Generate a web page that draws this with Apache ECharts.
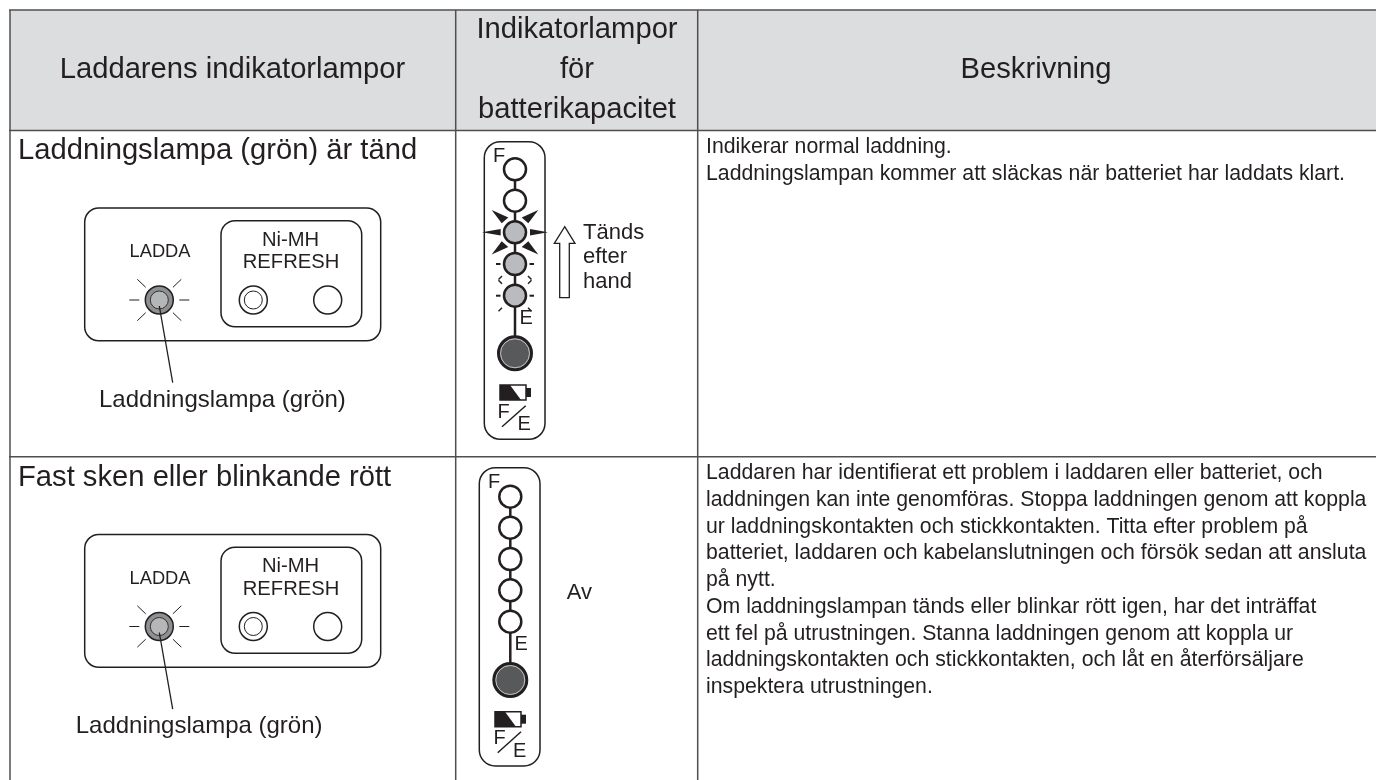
<!DOCTYPE html>
<html><head><meta charset="utf-8">
<style>html,body{margin:0;padding:0;background:#fff}#c{width:1376px;height:780px}</style>
<script src="https://cdn.jsdelivr.net/npm/echarts@6/dist/echarts.min.js"></script>
</head><body><div id="c"></div>
<script>
const headers = ['Laddarens indikatorlampor', 'Indikatorlampor', 'för', 'batterikapacitet', 'Beskrivning'];
const rowTitles = ['Laddningslampa (grön) är tänd', 'Fast sken eller blinkande rött'];
const chargeLabel = 'LADDA';
const modeLabels = ['Ni-MH', 'REFRESH'];
const lampLabel = 'Laddningslampa (grön)';
const risingLabels = ['Tänds', 'efter', 'hand'];
const offLabel = 'Av';
const desc1 = ['Indikerar normal laddning.',
 'Laddningslampan kommer att släckas när batteriet har laddats klart.'];
const desc2 = ['Laddaren har identifierat ett problem i laddaren eller batteriet, och',
 'laddningen kan inte genomföras. Stoppa laddningen genom att koppla',
 'ur laddningskontakten och stickkontakten. Titta efter problem på',
 'batteriet, laddaren och kabelanslutningen och försök sedan att ansluta',
 'på nytt.',
 'Om laddningslampan tänds eller blinkar rött igen, har det inträffat',
 'ett fel på utrustningen. Stanna laddningen genom att koppla ur',
 'laddningskontakten och stickkontakten, och låt en återförsäljare',
 'inspektera utrustningen.'];

const INK = '#231f20', RULE='#4f4f51', FONT = '"Liberation Sans", Arial, sans-serif';
const els = [];
const line = (x1,y1,x2,y2,w=1.5,c=INK) => els.push({type:'line',shape:{x1,y1,x2,y2},style:{stroke:c,lineWidth:w}});
const rect = (x,y,w,h,r,o={}) => els.push({type:'rect',shape:{x,y,width:w,height:h,r},style:Object.assign({fill:'#fff',stroke:INK,lineWidth:1.5},o)});
const circ = (cx,cy,r,o={}) => els.push({type:'circle',shape:{cx,cy,r},style:Object.assign({fill:'#fff',stroke:INK,lineWidth:1.5},o)});
const poly = (points,o={}) => els.push({type:'polygon',shape:{points},style:Object.assign({fill:INK,stroke:'none'},o)});
const text = (t,x,y,size,o={}) => {
  const {align='left',color=INK} = o;
  els.push({type:'text',x,y,silent:true,style:{text:t,x:0,y:0,fill:color,
    font:size+'px '+FONT,align:align,verticalAlign:'middle',textAlign:align,textVerticalAlign:'middle'}});
};

// table frame
rect(10,10,1366,120.5,0,{fill:'#dcddde',stroke:'none'});
line(9,10,1376,10,1.5,RULE); line(10,10,10,780,1.5,RULE); line(455.7,10,455.7,780,1.5,RULE); line(697.7,10,697.7,780,1.5,RULE);
line(9,130.5,1376,130.5,1.5,RULE); line(9,456.7,1376,456.7,1.5,RULE);

const HS=29.2;
text(headers[0],232.5,70,HS,{align:'center'});
text(headers[1],577,30,HS,{align:'center'});
text(headers[2],577,70,HS,{align:'center'});
text(headers[3],577,110,HS,{align:'center'});
text(headers[4],1036,70,HS,{align:'center'});
text(rowTitles[0],18,151,HS);
text(rowTitles[1],18,478,HS);

desc1.forEach((t,i)=>text(t,706,147.5+i*26.7,21.25));
desc2.forEach((t,i)=>text(t,706,473.5+i*26.7,21.25));

function panel(dy, labelX){
  rect(84.7,208+dy,296,132.7,14);
  rect(221,220.7+dy,140.7,106,14);
  text(chargeLabel,160,252+dy,18.3,{align:'center'});
  text(modeLabels[0],290.5,240+dy,20.2,{align:'center'});
  text(modeLabels[1],291,262.7+dy,20.2,{align:'center'});
  const cx=159.3, cy=300+dy;
  [[-20,0,-30,0],[20,0,30,0],[-13.6,-12.7,-22,-20.7],[13.6,-12.7,22,-20.7],[-13.6,12.7,-22,20.7],[13.6,12.7,22,20.7]]
    .forEach(d=>line(cx+d[0],cy+d[1],cx+d[2],cy+d[3],1));
  circ(cx,cy,14,{fill:'#8e8f91'});
  circ(cx,cy,9,{fill:'#b5b6b8',stroke:'#333',lineWidth:1});
  line(cx,cy+6,172.7,382.7+dy,1.3);
  circ(253.3,cy,14); circ(253.3,cy,9,{lineWidth:1});
  circ(327.7,cy,14);
  text(lampLabel,labelX,400+dy,24);
}
panel(0,99);
panel(326.5,75.7);

function column(x,top,bot,cx,ys,big,fills){
  rect(x,top,60.7,bot-top,16);
  line(cx,ys[0],cx,big,2.5);
  ys.forEach((y,i)=>circ(cx,y,11,{fill:fills[i],lineWidth:2.5}));
  circ(cx,big,16.5,{fill:'#58595b',stroke:INK,lineWidth:3});
  circ(cx,big,14.5,{fill:'#58595b',stroke:'#ddd',lineWidth:0.8});
}
const G='#b9bbbe';
const ys1=[169.3,200.7,232.3,264,295.7], ys2=[496.7,527.7,559,590.3,621.7];
column(484.3,141.7,439.3,515,ys1,353.3,['#fff','#fff',G,G,G]);
column(479.3,467.7,766,510.3,ys2,680,['#fff','#fff','#fff','#fff','#fff']);

function bat(x,y){
  rect(x,y,26,15,0,{lineWidth:1.5});
  poly([[x,y],[x+10,y],[x+21,y+15],[x,y+15]]);
  rect(x+26,y+3,5,9,0,{fill:INK,stroke:'none'});
}
bat(500,385); bat(495,711.7);
const LS=20;
text('F',493,156.5,LS); text('E',519.5,318.5,LS);
text('F',497.5,412,LS); text('E',517.5,424.5,LS); line(502,426.7,525.7,405.7,1.5);
text('F',488,482,LS); text('E',514.5,644,LS);
text('F',493.5,738,LS); text('E',513,751.5,LS); line(497.7,752.7,521,731.7,1.5);

// flashing marks on third lamp
const c3x=515,c3y=232.3;
poly([[c3x-33,c3y],[c3x-14.3,c3y-3.2],[c3x-14.3,c3y+3.2]]);
poly([[c3x+33,c3y],[c3x+15,c3y-3.2],[c3x+15,c3y+3.2]]);
[[-1,-1],[1,-1],[-1,1],[1,1]].forEach(s=>poly([[c3x+s[0]*23.3,c3y+s[1]*22.3],[c3x+s[0]*13.3,c3y+s[1]*9],[c3x+s[0]*6.7,c3y+s[1]*14.7]]));
// fainter flashes on lamps four and five
[264,295.7].forEach(y=>{
  line(496,y,500.5,y,2); line(529.5,y,534,y,2);
  [[-1,-1],[1,-1],[-1,1],[1,1]].forEach(s=>{ if(y===264&&s[1]<0) return;
    line(515+s[0]*13,y+s[1]*12,515+s[0]*16.5,y+s[1]*15.5,1.5);});
});

poly([[564.7,226.7],[575,243.3],[569.3,243.3],[569.3,297.7],[559.7,297.7],[559.7,243.3],[554.3,243.3]],{fill:'#fff',stroke:INK,lineWidth:1.3});
risingLabels.forEach((t,i)=>text(t,583,233+i*24.3,22));
text(offLabel,566.7,593,22);

const chart = echarts.init(document.getElementById('c'),null,{renderer:'canvas'});
chart.setOption({animation:false,backgroundColor:'#fff',graphic:{elements:els}});
</script></body></html>
